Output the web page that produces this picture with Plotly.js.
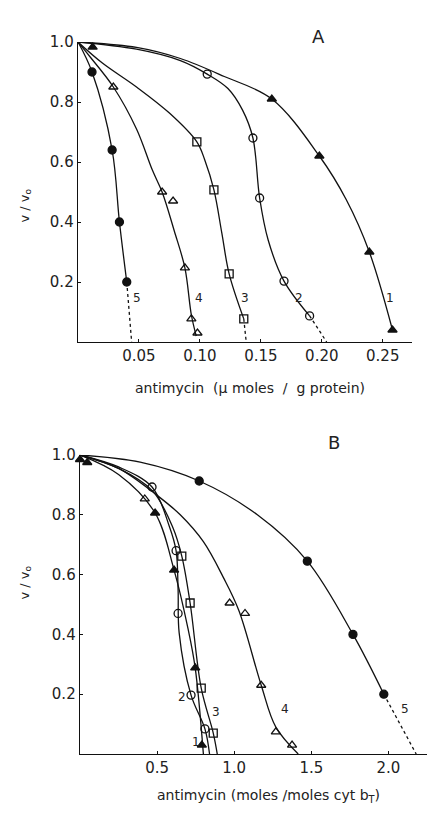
<!DOCTYPE html>
<html><head><meta charset="utf-8">
<script src="https://cdn.plot.ly/plotly-3.0.1.min.js"></script>
<style>html,body{margin:0;padding:0;background:#fff}#c{width:428px;height:814px}</style>
</head><body><div id="c"></div>
<script>
// ---------- Panel A : antimycin (µmoles / g protein) ----------
const aTickVals = [0.05, 0.10, 0.15, 0.20, 0.25];
const aTickText = ["0.05", "0.10", "0.15", "0.20", "0.25"];
const yTickVals = [0.2, 0.4, 0.6, 0.8, 1.0];
const yTickText = ["0.2", "0.4", "0.6", "0.8", "1.0"];

// curve 1 (filled triangles)
const a1x = [0.012, 0.159, 0.198, 0.239, 0.258];
const a1y = [0.983, 0.81, 0.62, 0.30, 0.04];
const a1lx = [0, 0.048, 0.084, 0.12, 0.159, 0.198, 0.22, 0.239, 0.258];
const a1ly = [1, 0.982, 0.945, 0.885, 0.81, 0.62, 0.475, 0.30, 0.04];
// curve 2 (open circles)
const a2x = [0.106, 0.1435, 0.149, 0.169, 0.190];
const a2y = [0.893, 0.68, 0.48, 0.203, 0.087];
const a2lx = [0, 0.048, 0.084, 0.106, 0.123, 0.135, 0.1435, 0.149, 0.156, 0.169, 0.190];
const a2ly = [1, 0.976, 0.938, 0.893, 0.845, 0.773, 0.68, 0.48, 0.34, 0.203, 0.087];
const a2dx = [0.190, 0.204];
const a2dy = [0.087, 0];
// curve 3 (open squares)
const a3x = [0.0975, 0.1115, 0.124, 0.136];
const a3y = [0.667, 0.507, 0.227, 0.077];
const a3lx = [0, 0.020, 0.048, 0.075, 0.0975, 0.104, 0.1115, 0.118, 0.124, 0.136];
const a3ly = [1, 0.93, 0.85, 0.763, 0.667, 0.607, 0.507, 0.363, 0.227, 0.077];
const a3dx = [0.136, 0.138];
const a3dy = [0.077, 0];
// curve 4 (open triangles)
const a4x = [0.029, 0.069, 0.078, 0.0877, 0.093, 0.098];
const a4y = [0.85, 0.50, 0.47, 0.247, 0.077, 0.03];
const a4lx = [0, 0.010, 0.029, 0.048, 0.061, 0.069, 0.079, 0.0877, 0.093, 0.097];
const a4ly = [1, 0.95, 0.85, 0.71, 0.573, 0.50, 0.37, 0.247, 0.09, 0.02];
// curve 5 (filled circles)
const a5x = [0.0115, 0.028, 0.034, 0.040];
const a5y = [0.90, 0.64, 0.40, 0.20];
const a5lx = [0, 0.0115, 0.028, 0.034, 0.040];
const a5ly = [1, 0.90, 0.64, 0.40, 0.20];
const a5dx = [0.040, 0.044];
const a5dy = [0.20, 0];

const aLabels = ["1", "2", "3", "4", "5"];
const aLabX = [0.256, 0.181, 0.137, 0.099, 0.048];
const aLabY = [0.147, 0.147, 0.147, 0.147, 0.147];

// ---------- Panel B : antimycin (moles / moles cyt bT) ----------
const bTickVals = [0.5, 1.0, 1.5, 2.0];
const bTickText = ["0.5", "1.0", "1.5", "2.0"];

// curve 1 (filled triangles)
const b1x = [0.0, 0.047, 0.487, 0.61, 0.747, 0.79];
const b1y = [0.985, 0.975, 0.806, 0.615, 0.288, 0.03];
const b1lx = [0, 0.25, 0.487, 0.61, 0.70, 0.747, 0.80];
const b1ly = [1, 0.935, 0.806, 0.615, 0.42, 0.288, 0];
// curve 2 (open circles)
const b2x = [0.467, 0.623, 0.636, 0.72, 0.81];
const b2y = [0.893, 0.68, 0.47, 0.197, 0.084];
const b2lx = [0, 0.25, 0.467, 0.58, 0.623, 0.636, 0.643, 0.72, 0.81, 0.84];
const b2ly = [1, 0.96, 0.893, 0.76, 0.68, 0.55, 0.405, 0.197, 0.084, 0];
// curve 3 (open squares)
const b3x = [0.66, 0.714, 0.786, 0.864];
const b3y = [0.662, 0.505, 0.22, 0.07];
const b3lx = [0, 0.25, 0.47, 0.60, 0.66, 0.714, 0.786, 0.864, 0.89];
const b3ly = [1, 0.955, 0.88, 0.76, 0.662, 0.505, 0.22, 0.07, 0];
// curve 4 (open triangles)
const b4x = [0.42, 0.97, 1.07, 1.175, 1.27, 1.375];
const b4y = [0.853, 0.505, 0.47, 0.23, 0.074, 0.03];
const b4lx = [0, 0.25, 0.50, 0.65, 0.80, 0.93, 1.03, 1.175, 1.27, 1.415];
const b4ly = [1, 0.955, 0.865, 0.80, 0.71, 0.59, 0.48, 0.23, 0.09, 0];
// curve 5 (filled circles)
const b5x = [0.773, 1.474, 1.77, 1.97];
const b5y = [0.913, 0.645, 0.40, 0.20];
const b5lx = [0, 0.39, 0.773, 1.15, 1.474, 1.77, 1.97];
const b5ly = [1, 0.976, 0.913, 0.80, 0.645, 0.40, 0.20];
const b5dx = [1.97, 2.18];
const b5dy = [0.20, 0];

const bLabels = ["1", "2", "3", "4", "5"];
const bLabX = [0.75, 0.66, 0.88, 1.33, 2.11];
const bLabY = [0.04, 0.19, 0.14, 0.15, 0.15];

// ---------- build ----------
const LC = "#111";
function line(x, y, xa, ya, dash) {
  return {x, y, xaxis: xa, yaxis: ya, mode: "lines", hoverinfo: "skip",
    line: {color: LC, width: 1.3, shape: dash ? "linear" : "spline", smoothing: 1, dash: dash ? "dot" : "solid"}};
}
function pts(x, y, xa, ya, sym) {
  return {x, y, xaxis: xa, yaxis: ya, mode: "markers", cliponaxis: false,
    marker: {symbol: sym, size: 8, color: LC, line: {color: LC, width: 1.3}}};
}
const traces = [
  line(a1lx, a1ly, "x", "y"), line(a2lx, a2ly, "x", "y"), line(a3lx, a3ly, "x", "y"),
  line(a4lx, a4ly, "x", "y"), line(a5lx, a5ly, "x", "y"),
  line(a2dx, a2dy, "x", "y", true), line(a3dx, a3dy, "x", "y", true), line(a5dx, a5dy, "x", "y", true),
  pts(a1x, a1y, "x", "y", "triangle-up"), pts(a2x, a2y, "x", "y", "circle-open"),
  pts(a3x, a3y, "x", "y", "square-open"), pts(a4x, a4y, "x", "y", "triangle-up-open"),
  pts(a5x, a5y, "x", "y", "circle"),
  line(b1lx, b1ly, "x2", "y2"), line(b2lx, b2ly, "x2", "y2"), line(b3lx, b3ly, "x2", "y2"),
  line(b4lx, b4ly, "x2", "y2"), line(b5lx, b5ly, "x2", "y2"),
  line(b5dx, b5dy, "x2", "y2", true),
  pts(b1x, b1y, "x2", "y2", "triangle-up"), pts(b2x, b2y, "x2", "y2", "circle-open"),
  pts(b3x, b3y, "x2", "y2", "square-open"), pts(b4x, b4y, "x2", "y2", "triangle-up-open"),
  pts(b5x, b5y, "x2", "y2", "circle")
];

const W = 428, H = 814;
const FAM = "DejaVu Sans, Liberation Sans, sans-serif";
const tickFont = {family: FAM, size: 15, color: "#222"};
function ax(extra) {
  return Object.assign({showgrid: false, zeroline: false, showline: true, linecolor: LC, linewidth: 1.3,
    ticks: "inside", ticklen: 3, tickcolor: LC, tickfont: tickFont, fixedrange: true}, extra);
}
const annotations = [];
const numFont = {family: FAM, size: 12, color: "#222"};
aLabels.forEach((t, i) => annotations.push({x: aLabX[i], y: aLabY[i], xref: "x", yref: "y", text: t, showarrow: false, font: numFont}));
bLabels.forEach((t, i) => annotations.push({x: bLabX[i], y: bLabY[i], xref: "x2", yref: "y2", text: t, showarrow: false, font: numFont}));
annotations.push({x: 327 / W, y: 1 - 24 / H, xref: "paper", yref: "paper", text: "A", showarrow: false, font: {family: FAM, size: 18, color: "#222"}});
annotations.push({x: 342 / W, y: 1 - 442 / H, xref: "paper", yref: "paper", text: "B", showarrow: false, font: {family: FAM, size: 18, color: "#222"}});
annotations.push({x: 250 / W, y: 1 - 388 / H, xref: "paper", yref: "paper", text: "antimycin  (\u03bc moles  /  g protein)", showarrow: false, font: {family: FAM, size: 14, color: "#222"}});
annotations.push({x: 268 / W, y: 1 - 807 / H, xref: "paper", yref: "paper", text: "antimycin (moles /moles cyt b<sub>T</sub>)", showarrow: false, font: {family: FAM, size: 14, color: "#222"}});
annotations.push({x: 14 / W, y: 1 - 187 / H, xref: "paper", yref: "paper", text: "v / v<sub>o</sub>", textangle: -90, showarrow: false, font: {family: FAM, size: 13, color: "#222"}});
annotations.push({x: 14 / W, y: 1 - 602 / H, xref: "paper", yref: "paper", text: "v / v<sub>o</sub>", textangle: -90, showarrow: false, font: {family: FAM, size: 13, color: "#222"}});

const layout = {
  width: W, height: H, margin: {l: 0, r: 0, t: 0, b: 0}, showlegend: false,
  paper_bgcolor: "#fff", plot_bgcolor: "#fff",
  xaxis: ax({domain: [78 / W, 412 / W], range: [0, 0.274], anchor: "y", tickvals: aTickVals, ticktext: aTickText}),
  yaxis: ax({domain: [1 - 342 / H, 1 - 42 / H], range: [0, 1.0], anchor: "x", tickvals: yTickVals, ticktext: yTickText}),
  xaxis2: ax({domain: [80 / W, 427 / W], range: [0, 2.25], anchor: "y2", tickvals: bTickVals, ticktext: bTickText}),
  yaxis2: ax({domain: [1 - 754 / H, 1 - 455 / H], range: [0, 1.0], anchor: "x2", tickvals: yTickVals, ticktext: yTickText}),
  annotations
};
Plotly.newPlot("c", traces, layout, {staticPlot: true, displayModeBar: false});
</script></body></html>
